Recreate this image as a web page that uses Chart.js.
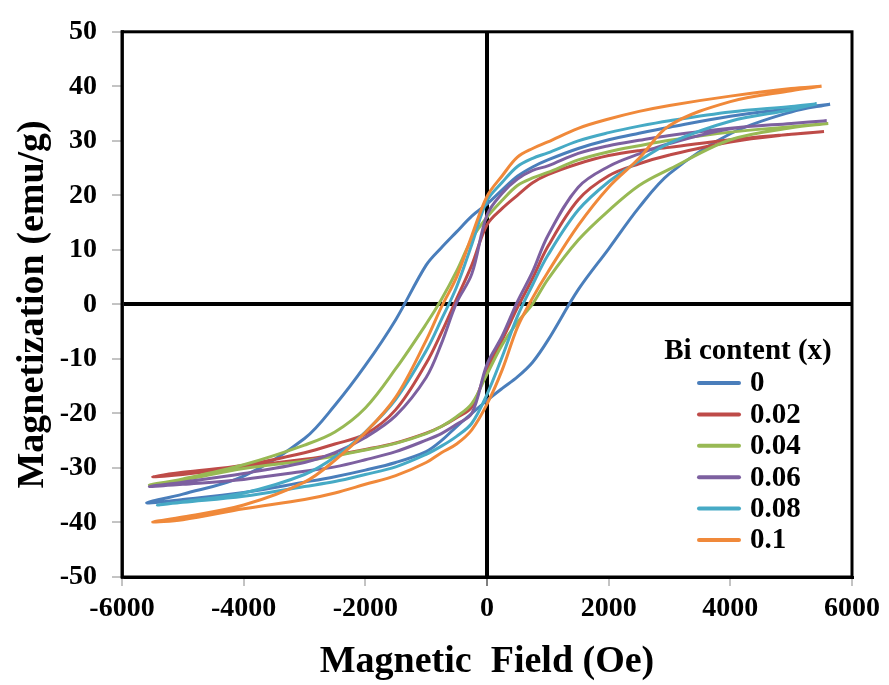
<!DOCTYPE html>
<html>
<head>
<meta charset="utf-8">
<script src="https://cdn.jsdelivr.net/npm/chart.js@4.4.1/dist/chart.umd.min.js"></script>
<style>
  html, body { margin: 0; padding: 0; background: #fff; }
  #wrap { width: 889px; height: 685px; }
</style>
</head>
<body>
<div id="wrap"><canvas id="loopChart" width="889" height="685"></canvas></div>
<script>
// Bi content (x) of each sample
const seriesLabels = ['0', '0.02', '0.04', '0.06', '0.08', '0.1'];
const seriesColors = ['#4A7EBB', '#BE4B48', '#98B954', '#7D60A0', '#46AAC5', '#F0893A'];

// field grid (Oe), descending branch goes along it, ascending branch goes back
const fieldGrid = [5000, 4000, 3000, 2500, 2000, 1500, 1000, 750, 500, 250, 0,
                   -250, -500, -750, -1000, -1500, -2000, -2500, -3000, -4000, -5000];

// end points of each loop
const fieldMax = [5640, 5540, 5610, 5585, 5420, 5500];
const magMax = [36.7, 31.7, 33.2, 33.7, 36.8, 40.0];
const fieldMin = [-5595, -5496, -5551, -5551, -5420, -5496];
const magMin = [-36.4, -31.6, -33.1, -33.4, -36.8, -39.9];

// descending branch, M (emu/g) at fieldGrid
const upperX0 = [35.9, 34.5, 32.5, 31.4, 30.2, 28.6, 26.5, 25.2, 23.5, 21.0, 18.4,
                 16.2, 13.3, 10.4, 7.2, -2.8, -11.2, -18.5, -24.6, -31.5, -34.8];
const upperX002 = [31.2, 30.2, 28.8, 28.2, 27.3, 25.8, 23.8, 22.3, 20.0, 17.6, 14.6,
                   7.2, 1.0, -5.2, -10.8, -19.3, -23.8, -25.6, -27.2, -29.5, -30.8];
const upperX004 = [32.6, 31.6, 30.1, 29.1, 28.0, 26.5, 24.2, 23.2, 21.8, 19.1, 16.0,
                   12.0, 6.1, 0.9, -3.6, -11.8, -19.0, -23.4, -25.8, -29.4, -32.0];
const upperX006 = [33.2, 32.3, 31.0, 30.1, 29.1, 27.7, 25.4, 24.6, 23.0, 20.4, 16.4,
                   5.6, 0.3, -7.2, -13.4, -20.4, -24.4, -27.2, -29.0, -31.0, -32.6];
const upperX008 = [36.3, 35.3, 33.7, 32.7, 31.5, 30.0, 27.8, 26.8, 25.3, 22.4, 19.0,
                   11.0, 3.2, -2.8, -8.5, -17.4, -23.4, -28.0, -31.2, -34.6, -36.2];
const upperX01 = [39.6, 38.2, 36.5, 35.4, 34.0, 32.3, 29.8, 28.6, 27.0, 23.6, 19.8,
                  12.6, 5.0, -0.5, -6.6, -17.0, -23.5, -28.6, -32.6, -36.8, -39.0];

// ascending branch, M (emu/g) at fieldGrid reversed (-5000 ... 5000)
const lowerX0 = [-35.8, -34.5, -32.6, -31.6, -30.4, -29.0, -27.0, -25.0, -22.4, -20.0, -17.6,
                 -15.4, -13.3, -10.6, -6.6, 2.7, 10.2, 17.8, 24.0, 31.3, 35.3];
const lowerX002 = [-31.2, -29.8, -28.4, -27.6, -26.6, -25.4, -23.6, -22.4, -20.8, -18.8, -11.9,
                   -6.5, -0.6, 4.8, 10.6, 19.2, 23.6, 25.8, 27.4, 29.8, 31.2];
const lowerX004 = [-32.2, -30.1, -28.7, -27.8, -26.7, -25.5, -23.7, -22.4, -20.6, -18.2, -12.8,
                   -7.4, -3.3, 0.1, 4.6, 11.8, 17.2, 21.8, 24.8, 30.2, 32.4];
const lowerX006 = [-33.0, -32.1, -30.6, -29.8, -28.5, -27.0, -24.9, -23.7, -22.0, -20.0, -11.0,
                   -5.8, 0.5, 6.0, 12.6, 21.5, 25.3, 27.6, 29.5, 32.2, 33.2];
const lowerX008 = [-36.3, -35.2, -33.4, -32.5, -31.2, -29.8, -27.5, -26.0, -24.2, -21.8, -16.5,
                   -9.6, -2.2, 3.6, 9.0, 17.3, 22.5, 26.3, 29.6, 33.6, 35.7];
const lowerX01 = [-39.5, -37.5, -35.8, -34.6, -33.0, -31.4, -29.0, -27.2, -25.6, -23.0, -18.3,
                  -12.0, -4.2, 1.2, 5.9, 14.5, 21.5, 26.8, 32.8, 37.2, 39.2];

const upperBranches = [upperX0, upperX002, upperX004, upperX006, upperX008, upperX01];
const lowerBranches = [lowerX0, lowerX002, lowerX004, lowerX006, lowerX008, lowerX01];

const serif = "'Liberation Serif', 'Times New Roman', serif";

// one closed path per sample: +end -> descending branch -> -end -> ascending branch -> +end
function buildLoop(i) {
    const fieldAsc = fieldGrid.slice().reverse();
    const pts = [{x: fieldMax[i], y: magMax[i]}];
    fieldGrid.forEach((h, k) => pts.push({x: h, y: upperBranches[i][k]}));
    pts.push({x: fieldMin[i], y: magMin[i]});
    fieldAsc.forEach((h, k) => pts.push({x: h, y: lowerBranches[i][k]}));
    pts.push({x: fieldMax[i], y: magMax[i]});
    return pts;
}

const datasets = seriesLabels.map((label, i) => ({
    label: label,
    data: buildLoop(i),
    borderColor: seriesColors[i],
    backgroundColor: seriesColors[i],
    borderWidth: 3,
    pointRadius: 0,
    showLine: true,
    tension: 0.35,
    order: seriesLabels.length - i   // later samples on top, like the original
}));

// legend box and plot frame
const extrasPlugin = {
    id: 'extras',
    afterDraw(chart) {
        const ctx = chart.ctx;
        const a = chart.chartArea;
        ctx.save();
        ctx.strokeStyle = '#000';
        ctx.lineWidth = 3;
        ctx.strokeRect(a.left, a.top, a.right - a.left, a.bottom - a.top);

        ctx.fillStyle = '#000';
        ctx.font = 'bold 29px ' + serif;
        ctx.textAlign = 'center';
        ctx.textBaseline = 'middle';
        ctx.fillText('Bi content (x)', 748, 352);
        ctx.textAlign = 'left';
        chart.data.datasets.forEach((ds, i) => {
            const y = 383 + i * 31.4;
            ctx.strokeStyle = ds.borderColor;
            ctx.lineWidth = 4;
            ctx.lineCap = 'round';
            ctx.beginPath();
            ctx.moveTo(699, y);
            ctx.lineTo(739, y);
            ctx.stroke();
            ctx.fillText(ds.label, 750, y + 1);
        });
        ctx.restore();
    }
};

const zeroLine = (ctx) => ctx.tick && ctx.tick.value === 0 ? '#000' : 'rgba(0,0,0,0)';
const zeroTick = (ctx) => ctx.tick && ctx.tick.value === 0 ? '#000' : '#888';

new Chart(document.getElementById('loopChart').getContext('2d'), {
    type: 'scatter',
    data: { datasets: datasets },
    options: {
        responsive: false,
        animation: false,
        layout: { padding: { left: 0, right: 37, top: 22, bottom: 0 } },
        plugins: {
            legend: { display: false },
            tooltip: { enabled: false }
        },
        scales: {
            x: {
                type: 'linear',
                min: -6000,
                max: 6000,
                z: 1,
                afterFit: (scale) => { scale.height = 108; },
                ticks: {
                    stepSize: 2000,
                    color: '#000',
                    padding: 6,
                    font: { family: serif, size: 28, weight: 'bold' },
                    callback: (v) => String(v)
                },
                grid: {
                    color: zeroLine,
                    lineWidth: 4,
                    tickColor: zeroTick,
                    tickLength: 9,
                    tickWidth: 1
                },
                border: { display: true, color: '#000', width: 3 },
                title: {
                    display: true,
                    text: 'Magnetic  Field (Oe)',
                    color: '#000',
                    font: { family: serif, size: 38, weight: 'bold' },
                    padding: { top: 2, bottom: 0 }
                }
            },
            y: {
                min: -50,
                max: 50,
                z: 1,
                afterFit: (scale) => { scale.width = 122; },
                ticks: {
                    stepSize: 10,
                    color: '#000',
                    padding: 15,
                    font: { family: serif, size: 28, weight: 'bold' }
                },
                grid: {
                    color: zeroLine,
                    lineWidth: 4,
                    tickColor: '#888',
                    tickLength: 10,
                    tickWidth: 1
                },
                border: { display: true, color: '#333', width: 3 },
                title: {
                    display: true,
                    text: 'Magnetization (emu/g)',
                    color: '#000',
                    font: { family: serif, size: 38, weight: 'bold' },
                    padding: { top: 10, bottom: 0 }
                }
            }
        }
    },
    plugins: [extrasPlugin]
});
</script>
</body>
</html>
